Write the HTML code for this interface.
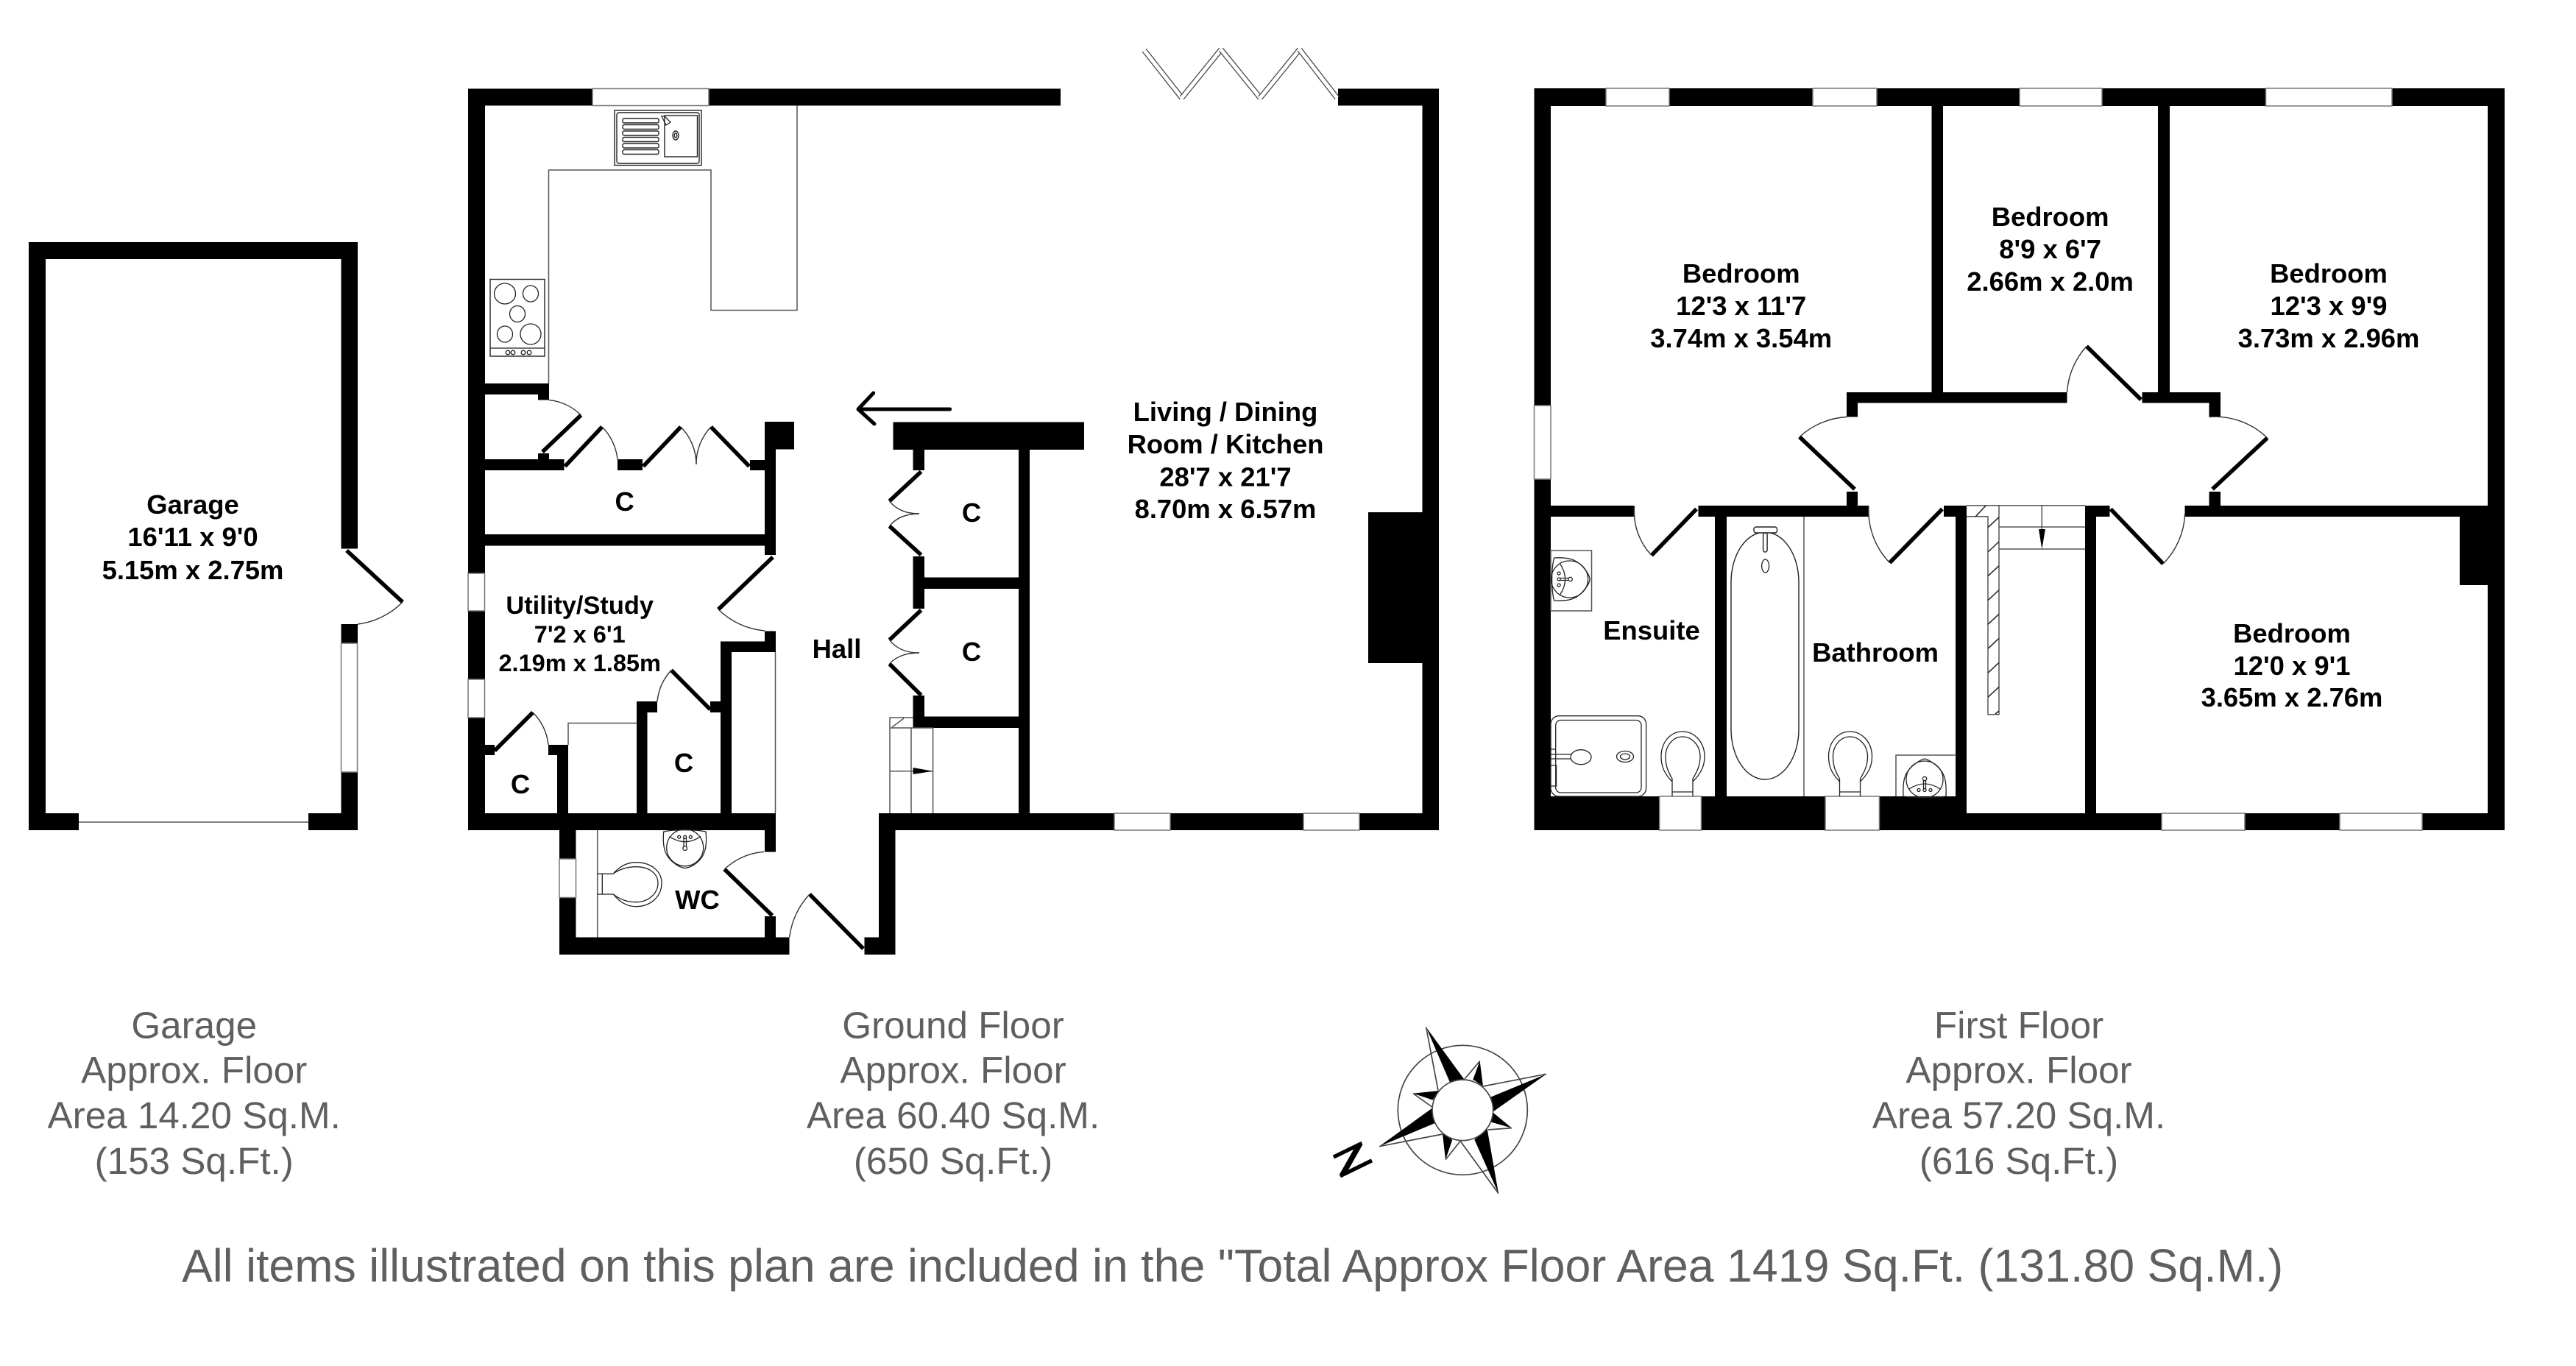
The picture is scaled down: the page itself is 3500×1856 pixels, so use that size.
<!DOCTYPE html>
<html lang="en">
<head>
<meta charset="utf-8">
<title>Floor plan</title>
<style>
html,body{margin:0;padding:0;background:#fff;}
svg{display:block;}
.w{fill:#000;}
.win{fill:#fff;stroke:#777;stroke-width:1.5;}
.door{stroke:#000;stroke-width:5.5;fill:none;stroke-linecap:butt;}
.arc{stroke:#333;stroke-width:1.4;fill:none;}
.thin{stroke:#555;stroke-width:1.5;fill:none;}
.fx{stroke:#222;stroke-width:1.4;fill:#fff;}
.fn{stroke:#222;stroke-width:1.3;fill:none;}
.t{font-family:"Liberation Sans",sans-serif;font-weight:bold;font-size:36.4px;fill:#000;text-anchor:middle;}
.s{font-size:32.5px;}
.g{font-family:"Liberation Sans",sans-serif;font-size:51.2px;fill:#5f5f5f;text-anchor:middle;}
</style>
</head>
<body>
<svg xmlns="http://www.w3.org/2000/svg" width="3500" height="1856" viewBox="0 0 3500 1856">
<rect width="3500" height="1856" fill="#fff"/>

<!-- GARAGE -->
<path class="w" d="M39 329H486V745.5H463.5V352H62V1105H107V1128H39Z M463.5 848H486V874H463.5Z M463.5 1049H486V1128H419V1105H463.5Z"/>
<rect class="win" x="463.5" y="874" width="22" height="175"/>
<line class="thin" x1="107" y1="1117" x2="419" y2="1117"/>
<line class="door" x1="471" y1="748" x2="547" y2="818"/>
<path class="arc" d="M547 818A103 103 0 0 1 486 848"/>

<!-- GROUND FLOOR WALLS -->
<path class="w" d="
M636 120.5H1441V143.5H636Z
M1818 120.5H1955V143.5H1818Z
M1932.5 120.5H1955V1128H1932.5Z
M1194 1105H1955V1128H1194Z
M636 120.5H659V1128H636Z
M636 1105H1054V1128H636Z
M1859 696H1933V901H1859Z
M1213.5 573.5H1473V611H1213.5Z
M1384 611H1399V1105H1384Z
M1240.5 611H1256V639H1240.5Z
M1240.5 756H1256V827H1240.5Z
M1256 784.5H1384V800H1256Z
M1240.5 945H1256V989H1240.5Z
M1240.5 973.5H1384V989H1240.5Z
M659 521H746V536H659Z
M731 521H746V543.5H731Z
M659 624H766.5V639H659Z
M731 616H746V639H731Z
M839 624H873V639H839Z
M1019 625H1054V639H1019Z
M1039 573H1079V610.5H1039Z
M1039 610H1054V754H1039Z
M659 726H1054V741.5H659Z
M1039 857.5H1054V886H1039Z
M979 871.5H1054V886H979Z
M979 871.5H994V1105H979Z
M965 953H979V968H965Z
M865 953H893V968H865Z
M865 953H879.5V1105H865Z
M757 1012H772V1105H757Z
M745 1012H772V1026H745Z
M658.5 1012H672V1026H658.5Z
M760 1128H782.5V1297H760Z
M760 1273.5H1072.5V1297H760Z
M1039 1128H1054V1157.5H1039Z
M1039 1245H1054V1274H1039Z
M1174.5 1273.5H1216.5V1297H1174.5Z
M1194 1105H1216.5V1297H1194Z
"/>
<rect class="win" x="805" y="120.5" width="158" height="23"/>
<rect class="win" x="636" y="779" width="22.5" height="51"/>
<rect class="win" x="636" y="923" width="22.5" height="52"/>
<rect class="win" x="760" y="1167" width="22.5" height="52.5"/>
<rect class="win" x="1514" y="1105" width="76" height="23"/>
<rect class="win" x="1771" y="1105" width="76" height="23"/>

<!-- Bifold doors -->
<g fill="none">
<path stroke="#444" stroke-width="7.5" d="M1554.7 68.3L1605.7 133"/><path stroke="#fff" stroke-width="5" d="M1554.7 68.3L1605.7 133"/>
<path stroke="#444" stroke-width="7.5" d="M1605.7 133L1659 67.3"/><path stroke="#fff" stroke-width="5" d="M1605.7 133L1659 67.3"/>
<path stroke="#444" stroke-width="7.5" d="M1659 67.3L1712.3 133"/><path stroke="#fff" stroke-width="5" d="M1659 67.3L1712.3 133"/>
<path stroke="#444" stroke-width="7.5" d="M1712.3 133L1765.7 67.3"/><path stroke="#fff" stroke-width="5" d="M1712.3 133L1765.7 67.3"/>
<path stroke="#444" stroke-width="7.5" d="M1765.7 67.3L1816.7 133"/><path stroke="#fff" stroke-width="5" d="M1765.7 67.3L1816.7 133"/>
</g>

<!-- Kitchen units -->
<path class="thin" d="M1083 143.5V421.5H966V231H745.5V521"/>
<rect class="fx" x="835" y="150" width="118" height="74.5"/>
<rect class="fx" x="838" y="153" width="112" height="69" rx="3"/>
<g class="fx">
<rect x="846" y="161" width="49" height="6" rx="2"/>
<rect x="846" y="169.5" width="49" height="6" rx="2"/>
<rect x="846" y="178" width="49" height="6" rx="2"/>
<rect x="846" y="186.5" width="49" height="6" rx="2"/>
<rect x="846" y="195" width="49" height="6" rx="2"/>
<rect x="846" y="203.5" width="49" height="6" rx="2"/>
<rect x="903" y="157" width="44.5" height="56"/>
<ellipse cx="918" cy="184" rx="4" ry="6"/>
<ellipse cx="918" cy="184" rx="1.8" ry="3"/>
</g>
<path class="fn" d="M899 158L905 170L911 166L903 158Z"/>
<rect class="fx" x="666" y="379.5" width="74" height="104.5"/>
<line class="fn" x1="666" y1="473" x2="740" y2="473"/>
<g class="fn">
<ellipse cx="686" cy="399" rx="14.5" ry="14"/>
<ellipse cx="721" cy="399" rx="10.5" ry="11"/>
<ellipse cx="703" cy="426.5" rx="10.5" ry="11"/>
<ellipse cx="686" cy="454" rx="10.5" ry="11"/>
<ellipse cx="721" cy="454" rx="14" ry="14"/>
<circle cx="690" cy="479" r="2.8"/><circle cx="697" cy="479" r="2.8"/>
<circle cx="711" cy="479" r="2.8"/><circle cx="719" cy="479" r="2.8"/>
</g>

<!-- Ground floor doors -->
<g class="door">
<line x1="737" y1="614" x2="789.4" y2="564"/>
<line x1="767.6" y1="633.6" x2="818" y2="580"/>
<line x1="874" y1="633.6" x2="925" y2="580"/>
<line x1="1018" y1="633.6" x2="966" y2="580"/>
<line x1="1050" y1="757" x2="976" y2="828"/>
<line x1="965" y1="964" x2="912" y2="910.6"/>
<line x1="672" y1="1020" x2="724" y2="968"/>
<line x1="1049.3" y1="1244" x2="984.3" y2="1181"/>
<line x1="1173" y1="1289" x2="1100" y2="1215"/>
<line x1="1251.5" y1="640.7" x2="1208.5" y2="680.8"/>
<line x1="1251.5" y1="754" x2="1208.5" y2="714.8"/>
<line x1="1251.5" y1="829" x2="1208.5" y2="869.5"/>
<line x1="1251.5" y1="944.6" x2="1208.5" y2="902"/>
</g>
<g class="arc">
<path d="M789.4 564A72 72 0 0 0 746 543.6"/>
<path d="M818 580A73 73 0 0 1 839 624"/>
<path d="M925 580A73 73 0 0 1 946 631"/>
<path d="M966 580A73 73 0 0 0 946 631"/>
<path d="M976 828A103 103 0 0 0 1039 857"/>
<path d="M912 910.6A74 74 0 0 0 893 953"/>
<path d="M724 968A74 74 0 0 1 745 1012"/>
<path d="M984.3 1181A88 88 0 0 1 1038.3 1157.3"/>
<path d="M1100 1215A104 104 0 0 0 1072.7 1273.3"/>
<path d="M1208.5 680.8Q1222 698 1249 698"/>
<path d="M1208.5 714.8Q1222 698 1249 698"/>
<path d="M1208.5 869.5Q1222 887 1249 887"/>
<path d="M1208.5 902Q1222 887 1249 887"/>
</g>

<!-- Ground interior thin lines -->
<path class="thin" d="M772 1012V982.5H865"/>
<line class="thin" x1="1053.5" y1="886" x2="1053.5" y2="1105"/>
<line class="thin" x1="811.7" y1="1128" x2="811.7" y2="1273.5"/>

<!-- Ground stairs -->
<path class="thin" d="M1209 1105V975H1240.5M1209 989H1267.6V1105M1238 989V1105M1209 1047.7H1267.6M1212 988L1228 976"/>
<polygon points="1240.6,1043 1267.6,1047.7 1240.6,1052" fill="#000"/>

<!-- Hall arrow -->
<path d="M1290.6 556H1166M1186.7 534L1166 556L1188 576" fill="none" stroke="#000" stroke-width="5" stroke-linecap="round" stroke-linejoin="round"/>

<!-- WC fixtures -->
<g class="fn">
<path d="M901.7 1130C900 1150 903 1163 915 1172C921 1177 926 1179 930.7 1179.5C936 1179 941 1177 947 1172C958 1163 961 1150 959 1130C945 1127 915 1127 901.7 1130Z"/>
<circle cx="930.7" cy="1151.7" r="25"/>
<path d="M909.5 1136.5Q930.7 1151 952 1136.5"/>
<circle cx="922.7" cy="1137.3" r="2"/><circle cx="930.7" cy="1137.3" r="2"/><circle cx="938.3" cy="1137.3" r="2"/>
<path d="M929 1139V1150M932.5 1139V1150"/>
<circle cx="930.7" cy="1152.7" r="2.8"/>
<path d="M811.7 1187.3H818.3V1215H811.7M818.3 1187.3H833.3M818.3 1215H833.3"/>
<path d="M833.3 1187C842 1177 852 1171.7 864 1171.7C884 1171.7 899 1183 899 1200C899 1218 884 1231.7 864 1231.7C852 1231.7 842 1226 833.3 1215"/>
<path d="M833.3 1187C842 1181 852 1177.7 864 1177.7C881 1177.7 894 1186 894 1200C894 1214 881 1225.7 864 1225.7C852 1225.7 842 1222 833.3 1215"/>
</g>

<!-- FIRST FLOOR WALLS -->
<path class="w" d="
M2084.5 120H3403V144H2084.5Z
M2084.5 120H2107V1128H2084.5Z
M3380 120H3403V1128H3380Z
M2084.5 1082H2672V1128H2084.5Z
M2657 1105H3403V1128H2657Z
M2624.5 144H2640V533H2624.5Z
M2932 144H2948V533H2932Z
M2509 533H2808.5V547.5H2509Z
M2910.5 533H3017V547.5H2910.5Z
M2509 533H2524V566.5H2509Z
M3001.5 533H3017V566.5H3001.5Z
M2107 687H2220.5V702H2107Z
M2307.5 687H2539V702H2307.5Z
M2641 687H2672V702H2641Z
M2509 668H2524V687H2509Z
M3001.5 668H3017V687H3001.5Z
M2330 702H2346V1082H2330Z
M2657 687H2672V1105H2657Z
M2833 687H2866.5V702H2833Z
M2833 687H2848V1105H2833Z
M2968.5 687H3380V702H2968.5Z
M3342 702H3380V795H3342Z
"/>
<rect class="win" x="2182" y="120" width="86" height="24"/>
<rect class="win" x="2463" y="120" width="87" height="24"/>
<rect class="win" x="2744" y="120" width="112" height="24"/>
<rect class="win" x="3078.5" y="120" width="171.5" height="24"/>
<rect class="win" x="2084.5" y="551" width="22.5" height="100"/>
<rect class="win" x="2254.7" y="1082" width="56.8" height="46"/>
<rect class="win" x="2480" y="1082" width="73.5" height="46"/>
<rect class="win" x="2937" y="1105" width="113" height="23"/>
<rect class="win" x="3179" y="1105" width="112" height="23"/>

<!-- First floor doors -->
<g class="door">
<line x1="2305" y1="691.6" x2="2244" y2="754.5"/>
<line x1="2520" y1="664.6" x2="2445" y2="593.6"/>
<line x1="2639" y1="691.6" x2="2567.5" y2="764.6"/>
<line x1="2909" y1="543" x2="2835" y2="470.5"/>
<line x1="3006" y1="664.6" x2="3080.6" y2="595"/>
<line x1="2867.7" y1="691.6" x2="2939" y2="766"/>
</g>
<g class="arc">
<path d="M2244 754.5A87 87 0 0 1 2220.6 688"/>
<path d="M2445 593.6A103 103 0 0 1 2509 566.5"/>
<path d="M2567.5 764.6A102 102 0 0 1 2539 688"/>
<path d="M2835 470.5A103 103 0 0 0 2808.5 533"/>
<path d="M3080.6 595A102 102 0 0 0 3001.5 566.5"/>
<path d="M2939 766A102 102 0 0 0 2968.7 698"/>
</g>

<!-- First floor stairs -->
<g class="thin">
<path d="M2672 686.7H2833M2672 701.7H2701V970.7H2716V686.7M2716 716H2833M2716 746H2833M2774.3 687V722"/>
</g>
<path stroke="#222" stroke-width="1.5" fill="none" d="M2684.3 701.7L2698.3 686.7M2701 716.7L2716 702.7M2701 750L2716 736M2701 782.7L2716 768.7M2701 815.7L2716 801.7M2701 848.3L2716 834.3M2701 881.3L2716 867.3M2701 914.3L2716 900.3M2701 947.3L2716 933.3M2711 970L2716 966"/>
<polygon points="2770,719 2779,719 2774.3,746" fill="#000"/>

<!-- Ensuite fixtures -->
<rect class="thin" x="2107" y="748" width="55.5" height="82"/>
<g class="fn" transform="translate(2132.6 787) rotate(-90)">
<path d="M-29 -21C-30 -1 -27 8 -18 17C-10 24 -5 27 0 27.5C5 27 10 24 18 17C27 8 30 -1 29 -21C15 -25 -15 -25 -29 -21Z"/>
<circle r="25"/>
<path d="M-21 -13Q0 1 21 -13"/>
<circle cx="-8" cy="-14.5" r="2"/><circle cy="-14.5" r="2"/><circle cx="8" cy="-14.5" r="2"/>
<path d="M-1.5 -13V-1M1.5 -13V-1"/>
<circle cy="1" r="2.7"/>
</g>
<rect class="fn" x="2107" y="972.7" width="129.6" height="109.3" rx="11"/>
<rect class="fn" x="2113.7" y="978.5" width="116.3" height="98.5" rx="7"/>
<g class="fn">
<ellipse cx="2148" cy="1028.7" rx="14" ry="10"/>
<path d="M2107 1025H2134.5M2107 1031H2134.5M2107 1018H2113.7"/>
<ellipse cx="2208" cy="1028" rx="11.5" ry="7.5"/>
<ellipse cx="2208" cy="1028" rx="6.5" ry="4"/>
<path d="M2107 1040H2114.5V1068H2107"/>
</g>
<!-- Toilets -->
<g class="fn">
<path d="M2272 1062C2262 1052 2257 1042 2257 1028C2257 1008 2270 994 2286 994C2302 994 2316 1008 2316 1028C2316 1042 2310 1052 2300 1062"/>
<path d="M2272 1058C2266 1048 2263 1040 2263 1028C2263 1012 2274 1001 2286 1001C2298 1001 2310 1012 2310 1028C2310 1040 2306 1048 2300 1058"/>
<path d="M2272 1058V1082M2300 1058V1082M2272 1076H2300"/>
</g>
<g class="fn" transform="translate(227.5 0)">
<path d="M2272 1062C2262 1052 2257 1042 2257 1028C2257 1008 2270 994 2286 994C2302 994 2316 1008 2316 1028C2316 1042 2310 1052 2300 1062"/>
<path d="M2272 1058C2266 1048 2263 1040 2263 1028C2263 1012 2274 1001 2286 1001C2298 1001 2310 1012 2310 1028C2310 1040 2306 1048 2300 1058"/>
<path d="M2272 1058V1082M2300 1058V1082M2272 1076H2300"/>
</g>
<!-- Bath -->
<line class="thin" x1="2451" y1="702" x2="2451" y2="1082"/>
<rect class="fx" x="2352" y="723" width="92" height="336" rx="46" ry="68"/>
<rect class="fx" x="2383" y="716" width="31.5" height="8" rx="3"/>
<rect class="fx" x="2395.6" y="724" width="5.5" height="26" rx="2.5"/>
<ellipse class="fn" cx="2398.6" cy="769" rx="5" ry="9"/>
<!-- Bathroom sink -->
<path class="thin" d="M2576 1082V1026H2656.6"/>
<g class="fn" transform="translate(2615 1059) rotate(180)">
<path d="M-29 -23C-30 -1 -27 8 -18 17C-10 24 -5 27 0 28C5 27 10 24 18 17C27 8 30 -1 29 -23C15 -25 -15 -25 -29 -23Z"/>
<circle r="25"/>
<path d="M-21 -13Q0 1 21 -13"/>
<circle cx="-8" cy="-14.5" r="2"/><circle cy="-14.5" r="2"/><circle cx="8" cy="-14.5" r="2"/>
<path d="M-1.5 -13V-1M1.5 -13V-1"/>
<circle cy="1" r="2.7"/>
</g>

<!-- COMPASS -->
<g transform="translate(1800 1380) scale(.33333)">
<circle cx="562" cy="385" r="264" fill="none" stroke="#444" stroke-width="5"/>
<g fill="#000">
<polygon points="413,47 570,262 510,272"/>
<polygon points="903,238 685,392 676,332"/>
<polygon points="708,725 662,462 610,505"/>
<polygon points="222,533 439,376 449,438"/>
<polygon points="632,185 604,260 645,288"/>
<polygon points="762,458 686,395 678,434"/>
<polygon points="492,587 480,482 520,506"/>
<polygon points="360,317 465,306 440,344"/>
</g>
<g stroke="#444" stroke-width="5" fill="none">
<path d="M413 47L462 305M903 238L645 288M708 725L553 512M222 533L480 483M632 185L570 258M762 458L665 465M492 587L552 512M360 317L437 372"/>
</g>
<circle cx="562" cy="385" r="124" fill="#fff" stroke="#444" stroke-width="5"/>
</g>
<text transform="translate(1836 1574.5) rotate(-26) scale(1.85 1)" y="17" font-family="Liberation Sans, sans-serif" font-weight="bold" font-size="47" text-anchor="middle" fill="#000">Z</text>

<!-- ROOM LABELS -->
<text class="t" x="262" y="698">Garage</text>
<text class="t" x="262" y="742">16'11 x 9'0</text>
<text class="t" x="262" y="787">5.15m x 2.75m</text>

<text class="t" x="1665" y="572">Living / Dining</text>
<text class="t" x="1665" y="616">Room / Kitchen</text>
<text class="t" x="1665" y="660.7">28'7 x 21'7</text>
<text class="t" x="1665" y="704">8.70m x 6.57m</text>

<text class="t" style="font-size:34.4px" x="787.7" y="834">Utility/Study</text>
<text class="t s" x="787.7" y="873">7'2 x 6'1</text>
<text class="t s" x="787.7" y="912">2.19m x 1.85m</text>

<text class="t" x="1137" y="894">Hall</text>
<text class="t" x="848.6" y="694">C</text>
<text class="t" x="1320" y="709">C</text>
<text class="t" x="1320" y="898">C</text>
<text class="t" x="929" y="1049">C</text>
<text class="t" x="707" y="1078">C</text>
<text class="t" x="947.5" y="1235">WC</text>

<text class="t" x="2365.7" y="384">Bedroom</text>
<text class="t" x="2365.7" y="428">12'3 x 11'7</text>
<text class="t" x="2365.7" y="472">3.74m x 3.54m</text>

<text class="t" x="2785.6" y="307">Bedroom</text>
<text class="t" x="2785.6" y="351">8'9 x 6'7</text>
<text class="t" x="2785.6" y="395">2.66m x 2.0m</text>

<text class="t" x="3164" y="384">Bedroom</text>
<text class="t" x="3164" y="428">12'3 x 9'9</text>
<text class="t" x="3164" y="472">3.73m x 2.96m</text>

<text class="t" x="3114" y="873">Bedroom</text>
<text class="t" x="3114" y="917">12'0 x 9'1</text>
<text class="t" x="3114" y="960">3.65m x 2.76m</text>

<text class="t" x="2244" y="869">Ensuite</text>
<text class="t" x="2548" y="899">Bathroom</text>

<!-- FOOTER -->
<text class="g" x="263.7" y="1410.7">Garage</text>
<text class="g" x="263.7" y="1471.7">Approx. Floor</text>
<text class="g" x="263.7" y="1533">Area 14.20 Sq.M.</text>
<text class="g" x="263.7" y="1595">(153 Sq.Ft.)</text>

<text class="g" x="1295" y="1410.7">Ground Floor</text>
<text class="g" x="1295" y="1471.7">Approx. Floor</text>
<text class="g" x="1295" y="1533">Area 60.40 Sq.M.</text>
<text class="g" x="1295" y="1595">(650 Sq.Ft.)</text>

<text class="g" x="2743" y="1410.7">First Floor</text>
<text class="g" x="2743" y="1471.7">Approx. Floor</text>
<text class="g" x="2743" y="1533">Area 57.20 Sq.M.</text>
<text class="g" x="2743" y="1595">(616 Sq.Ft.)</text>

<text x="247" y="1741.7" font-family="Liberation Sans, sans-serif" font-size="62.7" fill="#5f5f5f">All items illustrated on this plan are included in the "Total Approx Floor Area 1419 Sq.Ft. (131.80 Sq.M.)</text>
</svg>
</body>
</html>
